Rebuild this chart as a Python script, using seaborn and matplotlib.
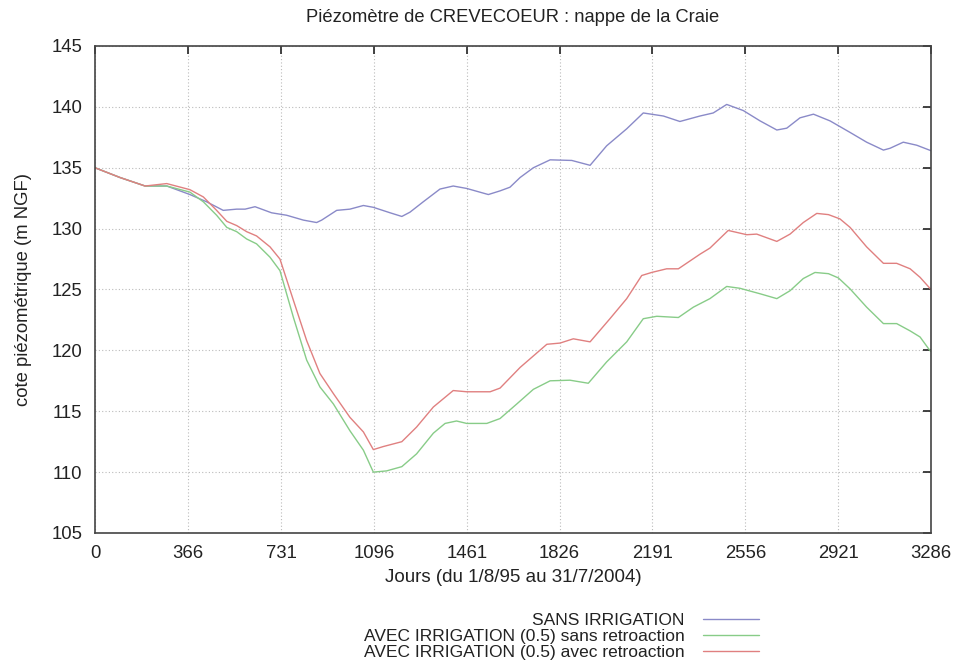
import matplotlib
matplotlib.use("Agg")
import matplotlib.pyplot as plt
import seaborn as sns
import pandas as pd

# ---- data ----
days_sans = [0, 98, 197, 282, 373, 439, 504, 557, 590, 629, 694, 753, 819, 871, 891, 950,
             1002, 1055, 1094, 1160, 1206, 1238, 1290, 1356, 1408, 1461, 1546, 1592, 1631,
             1671, 1723, 1789, 1874, 1946, 2011, 2090, 2155, 2234, 2299, 2378, 2430, 2483,
             2548, 2614, 2680, 2719, 2771, 2824, 2889, 2968, 3033, 3099, 3125, 3177, 3230, 3286]
val_sans = [135.0, 134.2, 133.5, 133.5, 132.8, 132.2, 131.5, 131.6, 131.6, 131.8, 131.3, 131.1,
            130.7, 130.5, 130.7, 131.5, 131.6, 131.9, 131.75, 131.3, 131.0, 131.35, 132.2,
            133.25, 133.5, 133.3, 132.8, 133.1, 133.4, 134.2, 135.0, 135.65, 135.6, 135.2,
            136.8, 138.2, 139.5, 139.25, 138.8, 139.25, 139.5, 140.2, 139.7, 138.85, 138.1,
            138.25, 139.1, 139.4, 138.85, 137.9, 137.1, 136.45, 136.6, 137.1, 136.85, 136.4]

days_sans_retro = [0, 98, 197, 282, 373, 426, 478, 518, 557, 596, 635, 688, 727, 780, 832, 884,
                   937, 1002, 1055, 1094, 1146, 1206, 1264, 1330, 1376, 1421, 1461, 1540, 1592,
                   1658, 1723, 1789, 1867, 1939, 2011, 2090, 2155, 2208, 2293, 2352, 2417, 2483,
                   2535, 2614, 2680, 2732, 2784, 2830, 2883, 2922, 2968, 3033, 3099, 3151, 3204,
                   3243, 3276, 3286]
val_sans_retro = [135.0, 134.2, 133.5, 133.5, 133.0, 132.2, 131.1, 130.1, 129.75, 129.15, 128.75,
                  127.65, 126.55, 122.7, 119.2, 117.0, 115.6, 113.4, 111.8, 110.0, 110.1, 110.45,
                  111.5, 113.2, 114.0, 114.2, 114.0, 114.0, 114.4, 115.6, 116.8, 117.5, 117.55,
                  117.3, 119.05, 120.7, 122.6, 122.8, 122.7, 123.55, 124.25, 125.25, 125.1,
                  124.65, 124.25, 124.9, 125.9, 126.4, 126.3, 125.95, 125.05, 123.55, 122.2,
                  122.2, 121.6, 121.1, 120.15, 119.9]

days_avec_retro = [0, 98, 197, 282, 373, 426, 478, 518, 557, 596, 635, 688, 727, 780, 832, 884,
                   937, 1002, 1055, 1094, 1133, 1206, 1264, 1330, 1408, 1461, 1553, 1592, 1671,
                   1776, 1828, 1880, 1946, 2024, 2090, 2149, 2188, 2247, 2293, 2378, 2417, 2489,
                   2562, 2601, 2680, 2732, 2784, 2837, 2883, 2928, 2968, 3033, 3099, 3151, 3204,
                   3243, 3286]
val_avec_retro = [135.0, 134.2, 133.5, 133.7, 133.2, 132.6, 131.5, 130.6, 130.25, 129.75, 129.4,
                  128.5, 127.5, 124.1, 120.8, 118.1, 116.45, 114.5, 113.3, 111.85, 112.1, 112.5,
                  113.7, 115.35, 116.7, 116.6, 116.6, 116.9, 118.6, 120.5, 120.6, 120.95, 120.7,
                  122.6, 124.25, 126.15, 126.4, 126.7, 126.7, 127.9, 128.4, 129.85, 129.5,
                  129.55, 128.95, 129.55, 130.5, 131.25, 131.15, 130.8, 130.1, 128.5, 127.15,
                  127.15, 126.7, 126.0, 125.0]

labels = ["SANS IRRIGATION",
          "AVEC IRRIGATION (0.5) sans retroaction",
          "AVEC IRRIGATION (0.5) avec retroaction"]
colors = ["#8a8ac8", "#88cc88", "#e08080"]
xticks = [0, 366, 731, 1096, 1461, 1826, 2191, 2556, 2921, 3286]
yticks = [105, 110, 115, 120, 125, 130, 135, 140, 145]

df = pd.concat([
    pd.DataFrame({"jour": days_sans, "cote": val_sans, "serie": labels[0]}),
    pd.DataFrame({"jour": days_sans_retro, "cote": val_sans_retro, "serie": labels[1]}),
    pd.DataFrame({"jour": days_avec_retro, "cote": val_avec_retro, "serie": labels[2]}),
], ignore_index=True)

sns.set_style("white")
plt.rcParams["font.family"] = ["Liberation Sans", "DejaVu Sans"]

fig = plt.figure(figsize=(9.57, 6.71), dpi=100)
ax = fig.add_axes([95 / 957, 1 - 533 / 671, (931 - 95) / 957, (533 - 46) / 671])

sns.lineplot(data=df, x="jour", y="cote", hue="serie", hue_order=labels,
             palette=colors, linewidth=1.0, ax=ax, legend=False, sort=False,
             estimator=None)

ax.set_xlim(0, 3286)
ax.set_ylim(105, 145)
ax.set_xticks(xticks)
ax.set_yticks(yticks)
ax.tick_params(direction="in", length=6, width=1.2, top=True, right=True,
               labelsize=13.3, colors="#222222")
ax.tick_params(axis="y", pad=9)
ax.tick_params(axis="x", pad=9)
ax.grid(True, linestyle=(0, (1, 2)), color="#bbbbbb", linewidth=0.8)
for s in ax.spines.values():
    s.set_color("#444444")
    s.set_linewidth(1.2)
    s.set_visible(True)

ax.set_xlabel("Jours (du 1/8/95 au 31/7/2004)", fontsize=13.5, labelpad=5, color="#222222")
ax.set_ylabel("cote piézométrique (m NGF)", fontsize=13.3, labelpad=14, color="#222222")
ax.set_title("Piézomètre de CREVECOEUR : nappe de la Craie", fontsize=13.2, pad=17,
             color="#222222")

handles = ax.get_lines()[:3]
leg = fig.legend(handles, labels, loc="upper right", bbox_to_anchor=(759 / 957, 1 - 613 / 671),
                 frameon=False, markerfirst=False, fontsize=12.5, handlelength=3.2,
                 handletextpad=1.1, labelspacing=0.04, borderpad=0, borderaxespad=0)
for t in leg.get_texts():
    t.set_color("#222222")

fig.savefig("out.png", dpi=100)
